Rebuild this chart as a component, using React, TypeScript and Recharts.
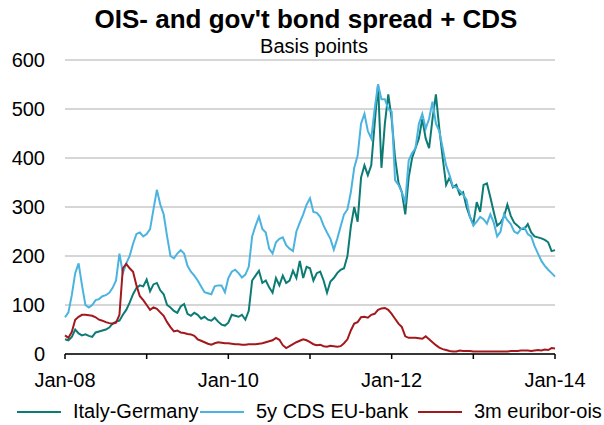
import React from 'react';
import { LineChart, Line, XAxis, YAxis, CartesianGrid } from 'recharts';

// half-month steps from Jan-08 (value 0) to Jan-14 (value 72)
const STEPS = 145;
const months = Array.from({ length: STEPS }, (_, i) => i / 2);

const italyGermany = [
  30, 28, 35, 50, 42, 38, 40, 37, 35, 44, 46, 48, 50, 54, 62, 66, 68, 80, 90, 105, 122, 135, 140, 138,
  152, 128, 142, 145, 130, 122, 100, 95, 88, 84, 97, 102, 82, 78, 84, 80, 72, 76, 70, 68, 74, 66, 60, 58,
  64, 80, 78, 76, 80, 70, 88, 150, 160, 170, 145, 150, 136, 125, 155, 140, 160, 145, 150, 170, 155, 190, 155, 178,
  175, 150, 165, 168, 150, 125, 148, 155, 165, 172, 175, 200, 260, 300, 270, 360, 385, 365, 385, 470, 550, 380, 470, 530,
  480, 400, 350, 330, 285, 360, 400, 420, 440, 480, 440, 420, 480, 530, 460, 400, 345, 360, 340, 345, 325, 330, 300, 280,
  265, 310, 290, 345, 348, 320, 290, 262, 268, 280, 305, 282, 268, 262, 255, 255, 265, 248, 240, 238, 236, 233, 228, 210,
  212,
];

const cdsEuBank = [
  75, 85, 120, 165, 185, 140, 100, 95, 100, 110, 112, 118, 120, 125, 135, 150, 205, 165, 185, 200, 225, 245, 248, 240,
  245, 255, 295, 335, 305, 285, 240, 200, 195, 205, 212, 205, 180, 168, 160, 150, 138, 126, 124, 122, 138, 140, 140, 126,
  155, 168, 172, 165, 156, 162, 178, 240, 262, 280, 255, 248, 215, 205, 228, 235, 238, 222, 215, 210, 250, 268, 285, 305,
  318, 290, 288, 280, 262, 248, 235, 213, 235, 260, 285, 295, 330, 380, 405, 470, 490, 455, 440, 500, 550, 520, 520, 500,
  495, 355, 345, 330, 310, 395, 410, 420, 470, 490, 460, 480, 515, 470, 455, 420, 385, 365, 342, 340, 334, 325, 315, 280,
  262, 270, 280, 275, 266, 285, 268, 240, 250, 285, 273, 265, 250, 246, 255, 258, 245, 240, 220, 205, 190, 180, 172, 165,
  158,
];

const euriborOis = [
  38, 33, 45, 70, 76, 80, 80, 79, 78, 75, 70, 68, 65, 63, 62, 64, 80, 175, 184, 175, 168, 140, 118, 110,
  100, 90, 95, 92, 85, 78, 65, 55, 46, 48, 44, 43, 41, 40, 37, 30, 27, 24, 21, 19, 22, 24, 23, 22,
  22, 21, 20, 20, 19, 19, 20, 20, 20, 21, 22, 24, 26, 28, 33, 29, 18, 12, 16, 20, 24, 27, 30, 28,
  24, 20, 18, 19, 16, 15, 17, 16, 15, 16, 22, 30, 48, 62, 65, 75, 76, 74, 80, 82, 90, 93, 94, 90,
  82, 72, 62, 55, 36, 33, 33, 33, 32, 31, 36, 30, 24, 18, 13, 10, 8, 6, 5, 5, 7, 6, 6, 6,
  5, 5, 5, 5, 5, 5, 5, 5, 5, 5, 5, 6, 6, 6, 7, 7, 7, 6, 7, 8, 7, 9, 8, 12,
  11,
];

const yearTicks = [0, 12, 24, 36, 48, 60, 72];
const yearLabels = ['Jan-08', '', 'Jan-10', '', 'Jan-12', '', 'Jan-14'];
const yTicks = [0, 100, 200, 300, 400, 500, 600];

const seriesNames = ['Italy-Germany', '5y CDS EU-bank', '3m euribor-ois'];
const seriesColors = ['#0b7b74', '#4bb3e0', '#a3181c'];

const data = months.map((m, i) => ({
  m,
  italy: italyGermany[i],
  cds: cdsEuBank[i],
  euribor: euriborOis[i],
}));

const FONT = '"Liberation Sans", Arial, sans-serif';

export default function App() {
  const legendX = [17, 200, 418];
  return (
    <div style={{ position: 'absolute', left: 0, top: 0, width: 604, height: 425, background: '#fff', fontFamily: FONT }}>
      <div style={{ position: 'absolute', left: 0, width: 604, top: 4, textAlign: 'center', fontSize: 26, fontWeight: 'bold', color: '#000', paddingLeft: 4 }}>
        OIS- and gov't bond spread + CDS
      </div>
      <div style={{ position: 'absolute', left: 0, width: 604, top: 35, textAlign: 'center', fontSize: 20, color: '#000', paddingLeft: 12 }}>
        Basis points
      </div>
      <LineChart width={604} height={425} data={data} margin={{ top: 60, right: 49, bottom: 41, left: 0 }}>
        <CartesianGrid horizontal vertical={false} stroke="#c8c8c8" strokeWidth={1.5} />
        <XAxis
          dataKey="m"
          type="number"
          domain={[0, 72]}
          ticks={yearTicks}
          tickFormatter={(v: number) => yearLabels[yearTicks.indexOf(v)] ?? ''}
          height={30}
          axisLine={{ stroke: '#000', strokeWidth: 1.5 }}
          tickLine={{ stroke: '#000', strokeWidth: 1.5 }}
          tickSize={5}
          tickMargin={14}
          tick={{ fill: '#000', fontSize: 20, fontFamily: FONT }}
          interval={0}
        />
        <YAxis
          domain={[0, 600]}
          ticks={yTicks}
          width={65}
          axisLine={false}
          tickLine={false}
          tickMargin={14}
          tick={{ fill: '#000', fontSize: 20, fontFamily: FONT }}
          interval={0}
        />
        <Line dataKey="italy" stroke={seriesColors[0]} strokeWidth={2} dot={false} isAnimationActive={false} type="linear" />
        <Line dataKey="cds" stroke={seriesColors[1]} strokeWidth={2} dot={false} isAnimationActive={false} type="linear" />
        <Line dataKey="euribor" stroke={seriesColors[2]} strokeWidth={2} dot={false} isAnimationActive={false} type="linear" />
      </LineChart>
      {seriesNames.map((name, i) => (
        <div key={name} style={{ position: 'absolute', left: legendX[i], top: 400, display: 'flex', alignItems: 'center', fontSize: 20, color: '#000', whiteSpace: 'nowrap' }}>
          <span style={{ display: 'inline-block', width: 44, height: 2, background: seriesColors[i], marginRight: 12 }} />
          {name}
        </div>
      ))}
    </div>
  );
}
